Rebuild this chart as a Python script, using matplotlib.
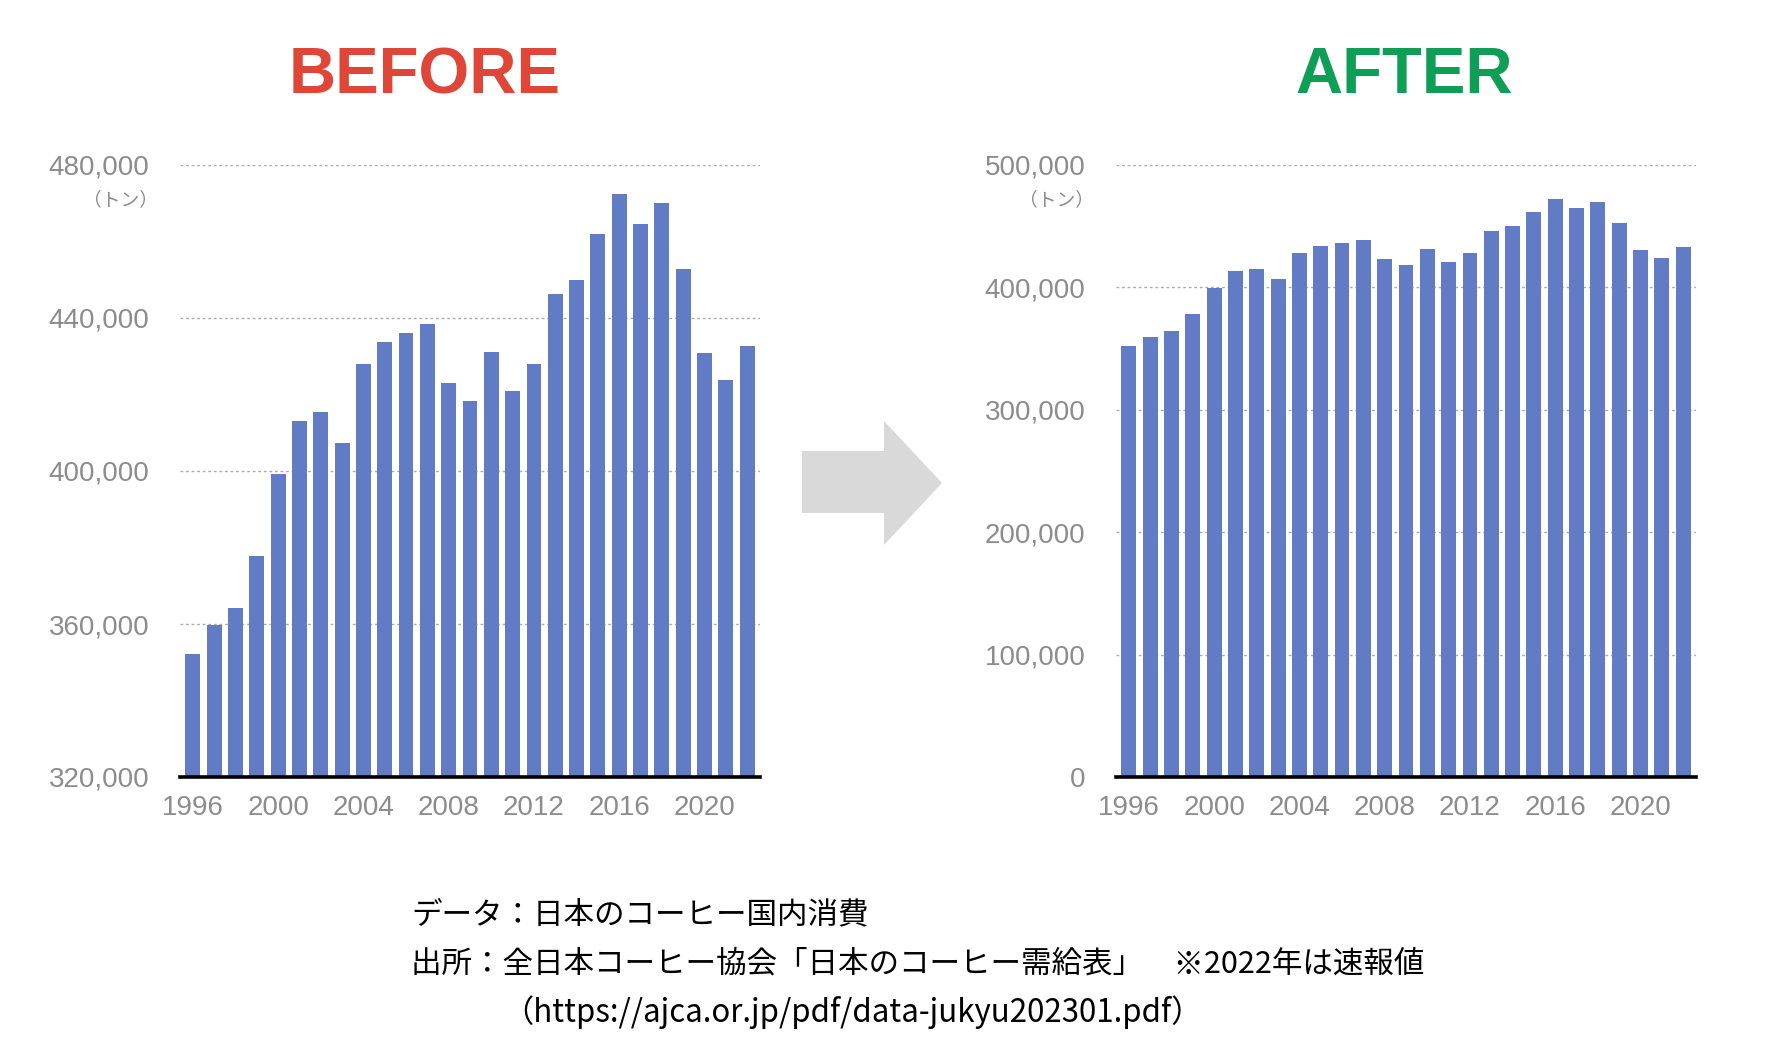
import numpy as np
import matplotlib
matplotlib.use('Agg')
import matplotlib.pyplot as plt
from matplotlib.patches import Polygon

# Japan coffee consumption (tons)
years = np.arange(1996, 2023)
consumption = [352100, 359700, 364200, 377900, 399300, 413200, 415300, 407200,
               427900, 433700, 436000, 438400, 423100, 418400, 431000, 420800,
               427900, 446200, 449900, 462000, 472400, 464600, 470000, 452800,
               430800, 423700, 432800]
year_ticks = [1996, 2000, 2004, 2008, 2012, 2016, 2020]
before_ticks = [320000, 360000, 400000, 440000, 480000]
after_ticks = [0, 100000, 200000, 300000, 400000, 500000]

titles = ['BEFORE', 'AFTER']
title_colors = ['#DF4638', '#0E9E55']
unit_label = '（トン）'
note_lines = ['データ：日本のコーヒー国内消費',
              '出所：全日本コーヒー協会「日本のコーヒー需給表」　※2022年は速報値',
              '（https://ajca.or.jp/pdf/data-jukyu202301.pdf）']

plt.rcParams['font.family'] = ['Liberation Sans', 'Noto Sans CJK JP', 'DejaVu Sans']

bar_color = '#617CC4'
tick_gray = '#8C8C8C'

fig = plt.figure(figsize=(17.78, 10.62), dpi=100)
W, H = 1778.0, 1062.0

def make_panel(left_px, ticks):
    ax = fig.add_axes([left_px / W, 1 - 777 / H, 580 / W, (777 - 165) / H])
    ax.bar(years, consumption, width=0.7, color=bar_color, zorder=3)
    ax.set_xlim(1995.4, 2022.6)
    ax.set_ylim(ticks[0], ticks[-1])
    ax.set_yticks(ticks)
    ax.set_yticklabels(['{:,}'.format(t) for t in ticks])
    ax.set_xticks(year_ticks)
    ax.set_xticklabels([str(y) for y in year_ticks])
    for t in ticks[1:]:
        ax.axhline(t, color='#ABABAB', lw=1.0, ls=(0, (2, 2)), zorder=1)
    for s in ['left', 'right', 'top']:
        ax.spines[s].set_visible(False)
    ax.spines['bottom'].set_color('black')
    ax.spines['bottom'].set_linewidth(2.6)
    ax.spines['bottom'].set_zorder(4)
    ax.tick_params(axis='y', length=0, pad=22, labelsize=20, labelcolor=tick_gray)
    ax.tick_params(axis='x', length=0, pad=13, labelsize=20, labelcolor=tick_gray)
    ax.annotate(unit_label, xy=(0, 1), xycoords='axes fraction',
                xytext=(-16, -25), textcoords='offset points',
                ha='right', va='center', fontsize=13.5, color=tick_gray,
                family=['Noto Sans CJK JP'])
    return ax

ax1 = make_panel(180, before_ticks)
ax2 = make_panel(1116, after_ticks)

# titles
fig.text(425 / W, 1 - 76 / H, titles[0], ha='center', va='center',
         fontsize=47, fontweight='bold', color=title_colors[0])
fig.text(1404 / W, 1 - 76 / H, titles[1], ha='center', va='center',
         fontsize=47, fontweight='bold', color=title_colors[1])

# grey arrow between panels
arrow_px = [(802, 451), (884, 451), (884, 421), (942, 483),
            (884, 545), (884, 513), (802, 513)]
arrow = Polygon([(x / W, 1 - y / H) for x, y in arrow_px], closed=True,
                transform=fig.transFigure, facecolor='#D9D9D9', edgecolor='none')
fig.patches.append(arrow)

# source notes
fig.text(411 / W, 1 - 915 / H, note_lines[0], ha='left', va='center',
         fontsize=22, family=['Noto Sans CJK JP'], color='black')
fig.text(411 / W, 1 - 964 / H, note_lines[1], ha='left', va='center',
         fontsize=22, family=['Noto Sans CJK JP'], color='black')
fig.text(502 / W, 1 - 1012 / H, note_lines[2], ha='left', va='center',
         fontsize=22.5, family=['Noto Sans CJK JP'], color='black')

fig.savefig('out.png', dpi=100)
